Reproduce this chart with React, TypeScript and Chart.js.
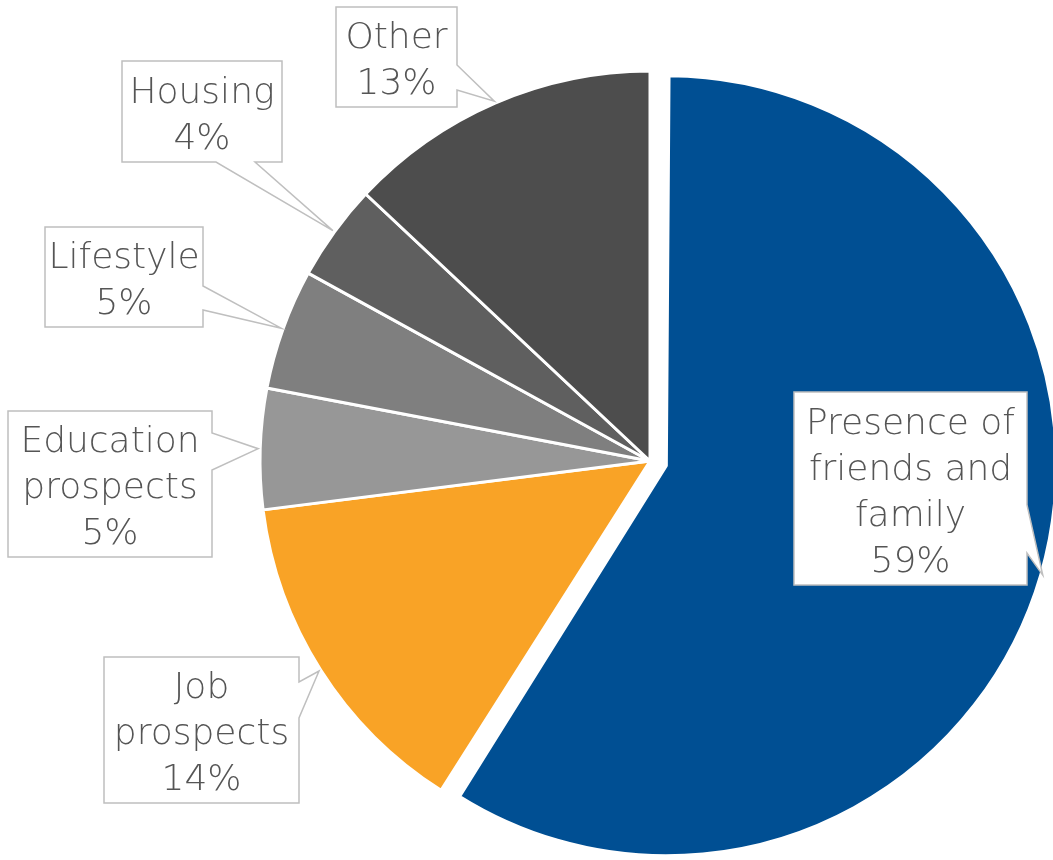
import React, { useEffect, useRef } from "react";
import { Chart, registerables } from "chart.js";

Chart.register(...registerables);

// ---- data ----
const categories = [
  "Presence of friends and family",
  "Job prospects",
  "Education prospects",
  "Lifestyle",
  "Housing",
  "Other",
];
const shares = [59, 14, 5, 5, 4, 13];
const percentLabels = ["59%", "14%", "5%", "5%", "4%", "13%"];

// ---- styles ----
const sliceColors = ["#004F93", "#F9A326", "#979797", "#7F7F7F", "#5F5F5F", "#4D4D4D"];
const explodePx = [17, 0, 0, 0, 0, 0];

// callout layout: box [left, top, right, bottom], side the tail leaves from, tail base range
const calloutLayout = [
  { box: [794, 392, 1027, 585], side: "right", base: [505, 553] },
  { box: [104, 657, 299, 803], side: "right", base: [682, 718] },
  { box: [8, 411, 212, 557], side: "right", base: [433, 470] },
  { box: [45, 227, 203, 327], side: "right", base: [286, 310] },
  { box: [122, 61, 282, 162], side: "bottom", base: [216, 255] },
  { box: [336, 7, 457, 107], side: "right", base: [65, 90] },
];

const FONT = "200 36px 'DejaVu Sans'";
const LINE_H = 46;

function wrap(ctx: CanvasRenderingContext2D, text: string, maxW: number): string[] {
  const words = text.split(" ");
  const lines: string[] = [];
  let cur = "";
  for (const w of words) {
    const test = cur ? cur + " " + w : w;
    if (cur && ctx.measureText(test).width > maxW) {
      lines.push(cur);
      cur = w;
    } else cur = test;
  }
  if (cur) lines.push(cur);
  return lines;
}

const explodeFix = {
  id: "explodeFix",
  afterDatasetsUpdate(chart: any) {
    const meta = chart.getDatasetMeta(0);
    meta.data.forEach((el: any, i: number) => {
      // Chart.js draws an offset arc shifted by offset/4 and enlarged by offset/4;
      // keep the slice the same radius as the others
      if (explodePx[i]) el.outerRadius -= explodePx[i];
    });
  },
};

const calloutPlugin = {
  id: "callouts",
  afterDatasetsDraw(chart: any) {
    const ctx: CanvasRenderingContext2D = chart.ctx;
    const meta = chart.getDatasetMeta(0);
    ctx.save();
    ctx.font = FONT;
    meta.data.forEach((el: any, i: number) => {
      const lay = calloutLayout[i];
      if (!lay) return;
      const { x, y, startAngle, endAngle, outerRadius } = el.getProps(
        ["x", "y", "startAngle", "endAngle", "outerRadius"],
        true
      );
      const mid = (startAngle + endAngle) / 2;
      const ex = explodePx[i] || 0;
      const r = outerRadius + 2 * ex + 2;
      const tx = x + Math.cos(mid) * r;
      const ty = y + Math.sin(mid) * r;
      const [l, t, rr, b] = lay.box;
      ctx.beginPath();
      ctx.moveTo(l, t);
      ctx.lineTo(rr, t);
      if (lay.side === "right") {
        ctx.lineTo(rr, lay.base[0]);
        ctx.lineTo(tx, ty);
        ctx.lineTo(rr, lay.base[1]);
        ctx.lineTo(rr, b);
        ctx.lineTo(l, b);
      } else {
        ctx.lineTo(rr, b);
        ctx.lineTo(lay.base[1], b);
        ctx.lineTo(tx, ty);
        ctx.lineTo(lay.base[0], b);
        ctx.lineTo(l, b);
      }
      ctx.closePath();
      ctx.fillStyle = "#ffffff";
      ctx.fill();
      ctx.strokeStyle = "#BFBFBF";
      ctx.lineWidth = 1.5;
      ctx.lineJoin = "miter";
      ctx.stroke();

      const lines = [...wrap(ctx, chart.data.labels[i], rr - l - 8), percentLabels[i]];
      const cx = (l + rr) / 2;
      const cy = (t + b) / 2;
      const y0 = cy - ((lines.length - 1) * LINE_H) / 2 + 5;
      ctx.fillStyle = "#555555";
      ctx.textAlign = "center";
      ctx.textBaseline = "middle";
      lines.forEach((ln, k) => ctx.fillText(ln, cx, y0 + k * LINE_H));
    });
    ctx.restore();
  },
};

export default function App() {
  const ref = useRef<HTMLCanvasElement>(null);
  useEffect(() => {
    const chart = new Chart(ref.current!, {
      type: "pie",
      data: {
        labels: categories,
        datasets: [
          {
            data: shares,
            backgroundColor: sliceColors,
            borderColor: "#ffffff",
            borderWidth: 3,
            offset: explodePx.map((p) => p * 4),
            radius: 390,
          } as any,
        ],
      },
      options: {
        responsive: false,
        animation: false,
        events: [],
        layout: { padding: { left: 247, right: 0, top: 62, bottom: 0 } },
        plugins: { legend: { display: false }, tooltip: { enabled: false } },
      },
      plugins: [explodeFix, calloutPlugin],
    });
    return () => chart.destroy();
  }, []);
  return (
    <div style={{ position: "absolute", left: 0, top: 0, width: 1053, height: 860, background: "#ffffff" }}>
      <canvas ref={ref} width={1053} height={860} style={{ width: 1053, height: 860, display: "block" }} />
    </div>
  );
}
